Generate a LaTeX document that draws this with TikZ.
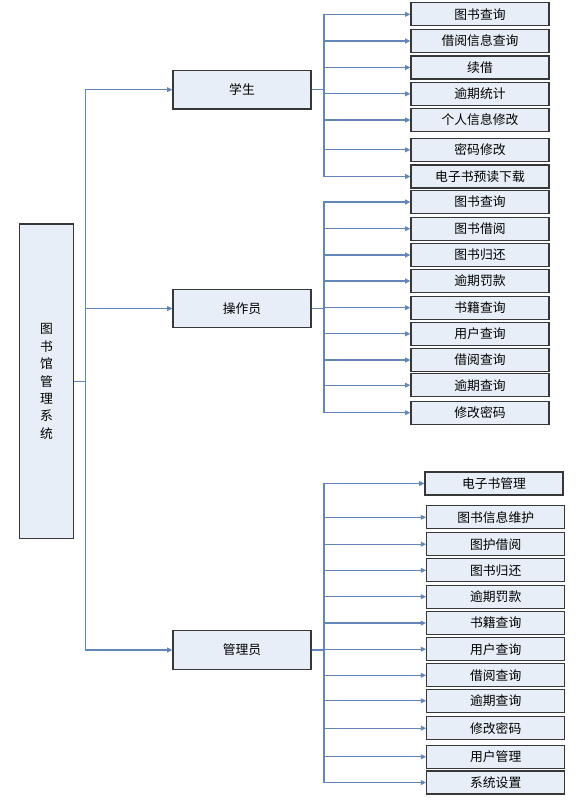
\documentclass[tikz,border=0pt]{standalone}
\usepackage{fontspec}
\newfontfamily\cjk{Noto Sans CJK SC}
\usetikzlibrary{arrows.meta}
\definecolor{linkblue}{RGB}{98,134,186}
\definecolor{boxfill}{RGB}{232,238,247}
\definecolor{boxline}{RGB}{55,55,55}

\begin{document}
\begin{tikzpicture}[x=0.75pt,y=0.75pt,yscale=-1,xscale=1,
  box/.style={draw=boxline,line width=0.9pt,fill=boxfill,inner sep=0pt,font=\cjk\fontsize{9.6}{11}\selectfont},
  leaf/.style={box,minimum width=103.5pt,minimum height=17.25pt},
  role/.style={box,minimum width=103.5pt,minimum height=29pt},
  link/.style={draw=linkblue,line width=1pt,-{Triangle[length=4pt,width=3.6pt]}}]
%set diagram left start at 0, and has height of 804
\fill[white] (0,0) rectangle (580,804);
\useasboundingbox (0,0) rectangle (580,804);

%Root box
\node[box,minimum width=40.8pt,minimum height=236pt,align=center,font=\cjk\fontsize{9.6}{13.1}\selectfont] (sys) at (46.5,381.4) {图\\书\\馆\\管\\理\\系\\统};

%Role boxes
\node[role] (stu) at (242,89.7) {学生};
\node[role] (opr) at (242,308.5) {操作员};
\node[role] (adm) at (242,650) {管理员};

\draw[link] (sys.east) -- ++(11.5,0) |- (stu.west);
\draw[link] (sys.east) -- ++(11.5,0) |- (opr.west);
\draw[link] (sys.east) -- ++(11.5,0) |- (adm.west);

%Student functions
\foreach \y/\t [count=\i] in {14.3/图书查询,41/借阅信息查询,67.5/续借,93.8/逾期统计,120/个人信息修改,149.8/密码修改,176.5/电子书预读下载}
  \node[leaf] (s\i) at (480,\y) {\t};
\foreach \i in {1,...,7}
  \draw[link] (stu.east) -- ++(12.3,0) |- (s\i.west);

%Operator functions
\foreach \y/\t [count=\i] in {202/图书查询,228.7/图书借阅,255/图书归还,281/逾期罚款,307.7/书籍查询,333.8/用户查询,360/借阅查询,385.2/逾期查询,412.7/修改密码}
  \node[leaf] (o\i) at (480,\y) {\t};
\foreach \i in {1,...,9}
  \draw[link] (opr.east) -- ++(12.3,0) |- (o\i.west);

%Administrator functions
\node[leaf] (a1) at (494,483.5) {电子书管理};
\foreach \y/\t [count=\i from 2] in {517.3/图书信息维护,544.2/图护借阅,570.3/图书归还,596.7/逾期罚款,623/书籍查询,649.2/用户查询,675.3/借阅查询,700.8/逾期查询,728.2/修改密码,756.8/用户管理,782.5/系统设置}
  \node[leaf] (a\i) at (495.7,\y) {\t};
\foreach \i in {1,...,12}
  \draw[link] (adm.east) -- ++(12.3,0) |- (a\i.west);

\end{tikzpicture}
\end{document}
